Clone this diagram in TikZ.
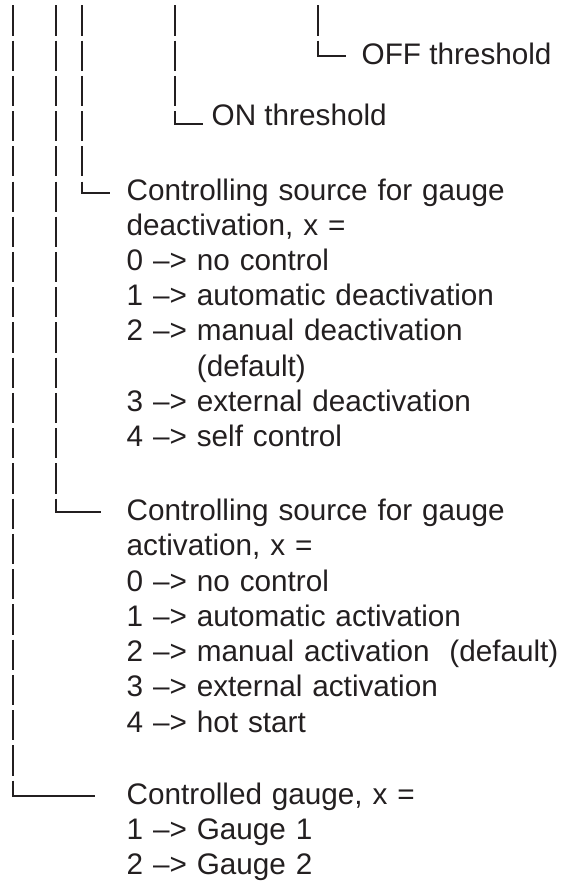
\documentclass[tikz,border=0pt]{standalone}
\usepackage{fontspec}
\setmainfont{Liberation Sans}
\usepackage{xcolor}
\definecolor{inkdark}{HTML}{231F20}
\usepackage{tikz}
\newcommand{\ctlarrow}{\textendash{}>}

\begin{document}
\begin{tikzpicture}[x=1pt,y=-1pt,
  leaf/.style={anchor=base west,inner sep=0pt,align=left,text=inkdark,font=\fontsize{29.7}{35.24}\selectfont},
  block/.style={leaf,text width=520pt},
  stem/.style={draw=inkdark,line width=2pt,dash pattern=on 30.2pt off 5.04pt},
  leg/.style={draw=inkdark,line width=2pt,line cap=rect}]
  \useasboundingbox (0,0) rectangle (568,881);
  % tree leaves, first line baseline at the given y
  \node[leaf] (offthr) at (361.5,64) {OFF threshold};
  \node[leaf] (onthr) at (211.5,125) {ON threshold};
  \node[block] (deact) at (126.5,200) {Controlling source for gauge\\deactivation, x =\\0 \ctlarrow\ no control\\1 \ctlarrow\ automatic deactivation\\2 \ctlarrow\ manual deactivation\\\hphantom{2 \ctlarrow\ }(default)\\3 \ctlarrow\ external deactivation\\4 \ctlarrow\ self control};
  \node[block] (act) at (126.5,520.7) {Controlling source for gauge\\activation, x =\\0 \ctlarrow\ no control\\1 \ctlarrow\ automatic activation\\2 \ctlarrow\ manual activation\ \ (default)\\3 \ctlarrow\ external activation\\4 \ctlarrow\ hot start};
  \node[block] (gauge) at (126.5,804) {Controlled gauge, x =\\1 \ctlarrow\ Gauge 1\\2 \ctlarrow\ Gauge 2};
  % stems come in from the top edge
  \coordinate (offtop) at (318,5.3);
  \coordinate (ontop) at (175,5.3);
  \coordinate (deacttop) at (82,5.3);
  \coordinate (acttop) at (55.5,5.3);
  \coordinate (gaugetop) at (13,5.3);
  \coordinate (offend) at ([xshift=-16.5pt,yshift=8pt]offthr.base west);
  \coordinate (onend) at ([xshift=-9.5pt,yshift=1pt]onthr.base west);
  \coordinate (deactend) at ([xshift=-17.5pt,yshift=7pt]deact.base west);
  \coordinate (actend) at ([xshift=-26.5pt,yshift=8.5pt]act.base west);
  \coordinate (gaugeend) at ([xshift=-32.5pt,yshift=8pt]gauge.base west);
  \foreach \br in {off,on,deact,act,gauge}{
    \draw[stem] (\br top) -- (\br top |- \br end);
    \draw[leg] (\br top |- \br end) -- (\br end);
  }
\end{tikzpicture}
\end{document}
